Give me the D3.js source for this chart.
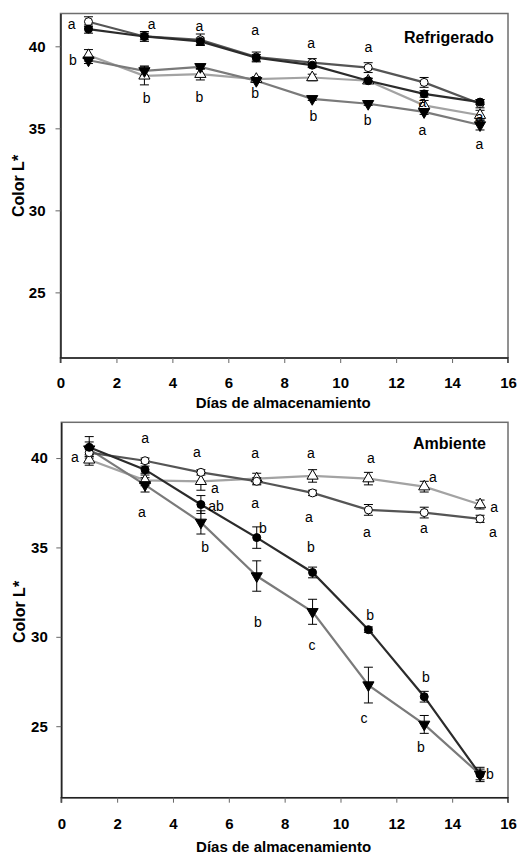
<!DOCTYPE html>
<html>
<head>
<meta charset="utf-8">
<script src="https://cdn.jsdelivr.net/npm/d3@7"></script>
<style>
  body { margin: 0; background: #fff; }
  text { font-family: "Liberation Sans", Arial, sans-serif; }
</style>
</head>
<body>
<div id="chart"></div>
<script>
// storage days
var days = [1, 3, 5, 7, 9, 11, 13, 15];
var xTicks = [0, 2, 4, 6, 8, 10, 12, 14, 16];
var yTicks = [25, 30, 35, 40];

// Refrigerado panel: means and error bars
var refOpenCircle = [41.5, 40.6, 40.4, 39.35, 39.0, 38.7, 37.8, 36.5];
var refOpenCircleErr = [0.3, 0.3, 0.35, 0.3, 0.25, 0.3, 0.3, 0.25];
var refFilledCircle = [41.05, 40.6, 40.3, 39.3, 38.85, 37.9, 37.1, 36.6];
var refFilledCircleErr = [0.25, 0.2, 0.2, 0.2, 0.15, 0.15, 0.2, 0.15];
var refOpenTri = [39.45, 38.2, 38.3, 38.0, 38.1, 37.9, 36.4, 35.8];
var refOpenTriErr = [0.35, 0.55, 0.35, 0.15, 0.2, 0.15, 0.3, 0.3];
var refDownTri = [39.15, 38.5, 38.75, 37.9, 36.8, 36.5, 36.0, 35.2];
var refDownTriErr = [0.2, 0.3, 0.15, 0.1, 0.1, 0.1, 0.15, 0.3];

// Ambiente panel
var ambOpenCircle = [40.3, 39.85, 39.2, 38.7, 38.05, 37.1, 36.95, 36.6];
var ambOpenCircleErr = [0.2, 0.15, 0.15, 0.2, 0.15, 0.3, 0.3, 0.2];
var ambFilledCircle = [40.6, 39.35, 37.4, 35.55, 33.6, 30.4, 26.65, 22.3];
var ambFilledCircleErr = [0.6, 0.2, 0.5, 0.6, 0.3, 0.15, 0.3, 0.4];
var ambOpenTri = [39.9, 38.75, 38.7, 38.85, 39.0, 38.85, 38.4, 37.4];
var ambOpenTriErr = [0.3, 0.3, 0.5, 0.3, 0.35, 0.35, 0.3, 0.25];
var ambDownTri = [40.5, 38.5, 36.4, 33.4, 31.4, 27.3, 25.1, 22.3];
var ambDownTriErr = [0.4, 0.4, 0.65, 0.85, 0.7, 1.0, 0.5, 0.3];

// significance letters: [day, value, letter]
var refLetters = [
  [0.4, 41.34, "a"], [0.44, 39.15, "b"],
  [3.26, 41.34, "a"], [3.08, 36.84, "b"],
  [4.97, 41.21, "a"], [4.97, 36.89, "b"],
  [6.96, 40.97, "a"], [6.96, 37.13, "b"],
  [8.96, 40.2, "a"], [9.04, 35.75, "b"],
  [11.01, 39.96, "a"], [10.98, 35.5, "b"],
  [12.94, 36.6, "a"], [12.94, 34.9, "a"],
  [14.98, 35.69, "a"], [14.98, 34.05, "a"]
];
var ambLetters = [
  [0.49, 40.07, "a"],
  [3.0, 41.14, "a"], [2.89, 37.0, "a"],
  [4.86, 40.35, "a"], [5.5, 38.3, "a"], [5.54, 37.33, "ab"], [5.15, 35.03, "b"],
  [6.94, 40.3, "a"], [6.94, 37.5, "a"], [7.22, 36.1, "b"], [7.04, 30.84, "b"],
  [8.94, 40.3, "a"], [8.87, 36.71, "a"], [8.94, 35.03, "b"], [8.98, 29.54, "c"],
  [11.09, 40.02, "a"], [10.95, 35.87, "a"], [11.06, 31.22, "b"], [10.84, 25.45, "c"],
  [13.31, 38.95, "a"], [12.99, 36.1, "a"], [13.06, 27.75, "b"], [12.88, 23.83, "b"],
  [15.5, 37.27, "a"], [15.46, 35.87, "a"], [15.35, 22.3, "b"]
];

var svg = d3.select("#chart").append("svg")
  .attr("width", 519)
  .attr("height", 855);

function drawPanel(cfg) {
  var x = d3.scaleLinear().domain([0, 16]).range([cfg.left, cfg.right]);
  var y = d3.scaleLinear().domain([21, 42]).range([cfg.bottom, cfg.top]);
  var g = svg.append("g");

  // frame
  g.append("rect")
    .attr("x", cfg.left).attr("y", cfg.top)
    .attr("width", cfg.right - cfg.left).attr("height", cfg.bottom - cfg.top)
    .attr("fill", "none").attr("stroke", "#6e6e6e").attr("stroke-width", 1.5);

  var xAxis = g.append("g")
    .attr("transform", "translate(0," + cfg.bottom + ")")
    .call(d3.axisBottom(x).tickValues(xTicks).tickSize(5).tickPadding(cfg.xPad).tickFormat(d3.format("d")));
  var yAxis = g.append("g")
    .attr("transform", "translate(" + cfg.left + ",0)")
    .call(d3.axisLeft(y).tickValues(yTicks).tickSize(5).tickPadding(cfg.yPad).tickSizeOuter(0));
  [xAxis, yAxis].forEach(function(a) {
    a.select(".domain").attr("stroke", "#222").attr("stroke-width", 1.5);
    a.selectAll(".tick line").attr("stroke", "#666");
    a.selectAll("text").attr("fill", "#000")
      .style("font-size", "15px").style("font-weight", "bold")
      .style("font-family", "'Liberation Sans', Arial, sans-serif");
  });
  xAxis.select(".domain").attr("d", "M" + cfg.left + ",5V0H" + cfg.right + "V5");

  var series = [
    { vals: cfg.openTri, err: cfg.openTriErr, line: "#a3a3a3", shape: "tri", fill: "#fff" },
    { vals: cfg.downTri, err: cfg.downTriErr, line: "#7a7a7a", shape: "down", fill: "#000" },
    { vals: cfg.openCircle, err: cfg.openCircleErr, line: "#555", shape: "circle", fill: "#fff" },
    { vals: cfg.filledCircle, err: cfg.filledCircleErr, line: "#2b2b2b", shape: "circle", fill: "#000" }
  ];

  var line = d3.line()
    .x(function(d, i) { return x(days[i]); })
    .y(function(d) { return y(d); });

  series.forEach(function(s) {
    g.append("path")
      .attr("d", line(s.vals))
      .attr("fill", "none")
      .attr("stroke", s.line)
      .attr("stroke-width", 2.2);
  });

  series.forEach(function(s) {
    var eb = g.append("g").attr("stroke", "#000").attr("stroke-width", 1);
    s.vals.forEach(function(v, i) {
      var cx = x(days[i]);
      var hi = y(v + s.err[i]), lo = y(v - s.err[i]);
      eb.append("line").attr("x1", cx).attr("x2", cx).attr("y1", hi).attr("y2", lo);
      eb.append("line").attr("x1", cx - 4.5).attr("x2", cx + 4.5).attr("y1", hi).attr("y2", hi);
      eb.append("line").attr("x1", cx - 4.5).attr("x2", cx + 4.5).attr("y1", lo).attr("y2", lo);
    });
  });

  series.forEach(function(s) {
    var mg = g.append("g");
    s.vals.forEach(function(v, i) {
      var cx = x(days[i]), cy = y(v);
      if (s.shape === "circle") {
        mg.append("circle").attr("cx", cx).attr("cy", cy).attr("r", 4)
          .attr("fill", s.fill).attr("stroke", "#000").attr("stroke-width", 1);
      } else {
        mg.append("path")
          .attr("d", d3.symbol().type(d3.symbolTriangle).size(54)())
          .attr("transform", "translate(" + cx + "," + cy + ")" + (s.shape === "down" ? " rotate(180)" : ""))
          .attr("fill", s.fill).attr("stroke", "#000").attr("stroke-width", 1);
      }
    });
  });

  g.selectAll("text.sig")
    .data(cfg.letters)
    .enter()
    .append("text")
    .attr("class", "sig")
    .attr("x", function(d) { return x(d[0]); })
    .attr("y", function(d) { return y(d[1]); })
    .attr("dy", "0.35em")
    .attr("text-anchor", "middle")
    .style("font-size", "14px")
    .attr("fill", "#000")
    .text(function(d) { return d[2]; });

  g.append("text")
    .attr("x", cfg.titleX).attr("y", cfg.titleY)
    .style("font-size", "16px").style("font-weight", "bold")
    .text(cfg.title);

  g.append("text")
    .attr("x", (cfg.left + cfg.right) / 2 - 1)
    .attr("y", cfg.xLabelY)
    .attr("text-anchor", "middle")
    .style("font-size", "15px").style("font-weight", "bold")
    .text("Días de almacenamiento");

  g.append("text")
    .attr("transform", "translate(" + cfg.yLabelX + "," + cfg.yLabelY + ") rotate(-90)")
    .attr("text-anchor", "middle")
    .attr("dy", "0.35em")
    .style("font-size", "16px").style("font-weight", "bold")
    .text("Color L*");
}

drawPanel({
  left: 60.5, right: 508, top: 13.5, bottom: 358,
  xPad: 14, yPad: 10,
  openCircle: refOpenCircle, openCircleErr: refOpenCircleErr,
  filledCircle: refFilledCircle, filledCircleErr: refFilledCircleErr,
  openTri: refOpenTri, openTriErr: refOpenTriErr,
  downTri: refDownTri, downTriErr: refDownTriErr,
  letters: refLetters,
  title: "Refrigerado", titleX: 404, titleY: 43,
  xLabelY: 408, yLabelX: 18, yLabelY: 186
});

drawPanel({
  left: 61.3, right: 508, top: 422.3, bottom: 797.7,
  xPad: 16, yPad: 8.5,
  openCircle: ambOpenCircle, openCircleErr: ambOpenCircleErr,
  filledCircle: ambFilledCircle, filledCircleErr: ambFilledCircleErr,
  openTri: ambOpenTri, openTriErr: ambOpenTriErr,
  downTri: ambDownTri, downTriErr: ambDownTriErr,
  letters: ambLetters,
  title: "Ambiente", titleX: 413, titleY: 449,
  xLabelY: 852, yLabelX: 19, yLabelY: 612
});
</script>
</body>
</html>
